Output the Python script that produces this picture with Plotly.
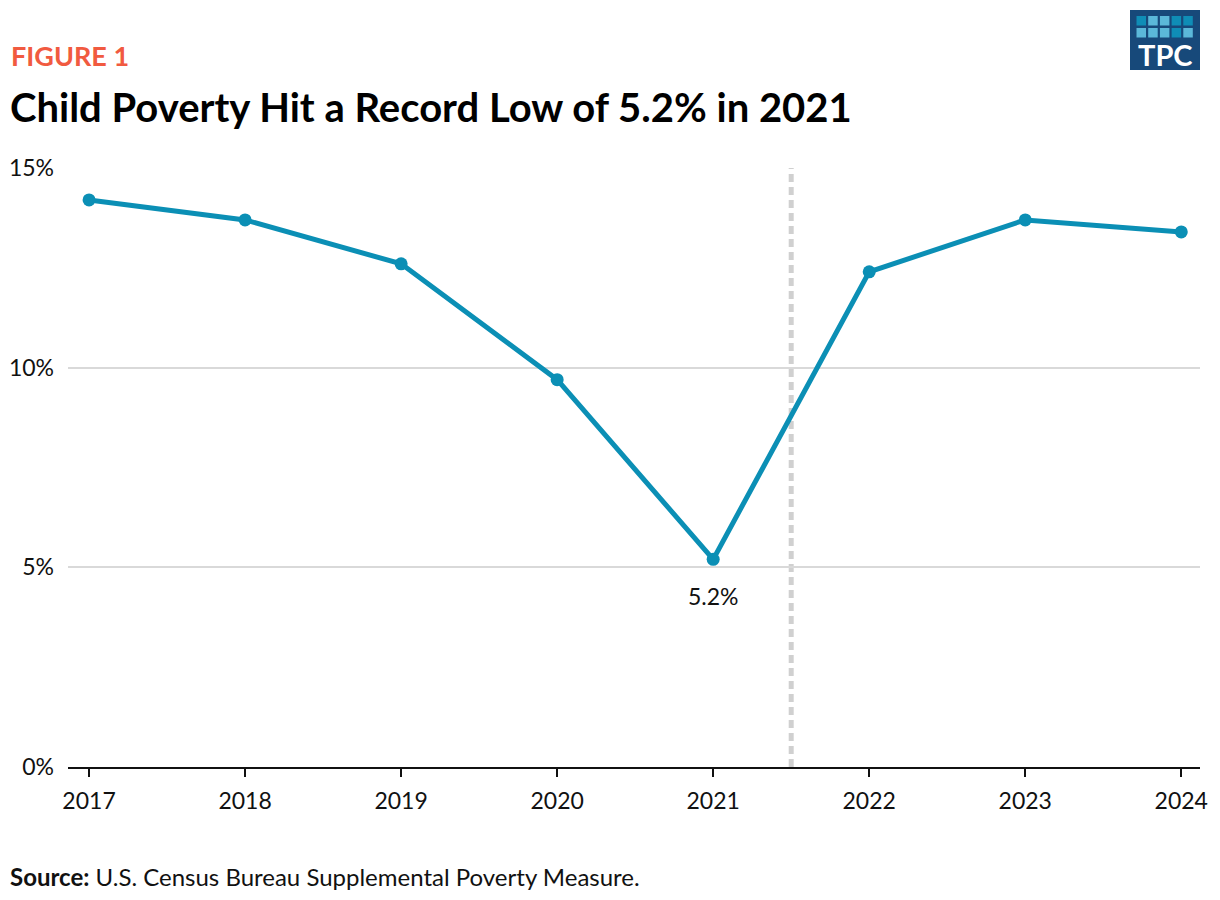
import plotly.graph_objects as go

# child poverty rate (SPM), percent
years = [2017, 2018, 2019, 2020, 2021, 2022, 2023, 2024]
rate = [14.2, 13.7, 12.6, 9.7, 5.2, 12.4, 13.7, 13.4]
y_ticks = [0, 5, 10, 15]
y_labels = ["0%", "5%", "10%", "15%"]

teal = "#0b8fb5"
font = "Lato"

fig = go.Figure()
fig.add_trace(go.Scatter(
    x=years, y=rate, mode="lines+markers",
    line=dict(color=teal, width=5),
    marker=dict(color=teal, size=13),
    hoverinfo="x+y", showlegend=False,
))

# dashed divider between 2021 and 2022
fig.add_shape(type="line", xref="x", yref="paper", x0=2021.5, x1=2021.5, y0=0, y1=1,
              line=dict(color="#d0d0d0", width=5, dash="8px,5px"), layer="below")

fig.add_annotation(x=2021, y=5.2, text="5.2%", showarrow=False, yshift=-37,
                   font=dict(family=font, size=23, color="#111"))

# page pixel -> paper coords (plot area spans x 68..1200, y 168..767 on the page)
def px_x(v):
    return (v - 68) / (1200 - 68)

def px_y(v):
    return (767 - v) / (767 - 168)

# header / footer
fig.add_annotation(xref="paper", yref="paper", x=px_x(9), y=px_y(55), xanchor="left", yanchor="middle",
                   text="<b>FIGURE 1</b>", showarrow=False,
                   font=dict(family=font, size=27, color="#f15a40"))
fig.add_annotation(xref="paper", yref="paper", x=px_x(8), y=px_y(107), xanchor="left", yanchor="middle",
                   text="<b>Child Poverty Hit a Record Low of 5.2% in 2021</b>", showarrow=False,
                   font=dict(family=font, size=40, color="#000"))
fig.add_annotation(xref="paper", yref="paper", x=px_x(8), y=px_y(876), xanchor="left", yanchor="middle",
                   text="<b>Source:</b> U.S. Census Bureau Supplemental Poverty Measure.", showarrow=False,
                   font=dict(family=font, size=24, color="#111"))

# TPC logo
fig.add_shape(type="rect", xref="paper", yref="paper",
              x0=px_x(1130), x1=px_x(1200), y0=px_y(70), y1=px_y(10),
              fillcolor="#17497a", line=dict(width=0))
dark_sq = "#0f8db6"
light_sq = "#5bb8d9"
rows = [[dark_sq, light_sq, light_sq, dark_sq, dark_sq],
        [light_sq, light_sq, light_sq, dark_sq, light_sq]]
for r, row in enumerate(rows):
    for c, col in enumerate(row):
        x0 = 1136.5 + c * 11.7
        y0 = 16 + r * 12
        fig.add_shape(type="rect", xref="paper", yref="paper",
                      x0=px_x(x0), x1=px_x(x0 + 9.5), y0=px_y(y0 + 9.5), y1=px_y(y0),
                      fillcolor=col, line=dict(width=0))
fig.add_annotation(xref="paper", yref="paper", x=px_x(1165), y=px_y(54), xanchor="center", yanchor="middle",
                   text="<b>TPC</b>", showarrow=False,
                   font=dict(family=font, size=29, color="white"))

# page body has an 8px margin, so shift margins to land the plot where the reference has it
fig.update_layout(
    width=1220, height=900,
    margin=dict(l=60, r=28, t=160, b=141),
    plot_bgcolor="white", paper_bgcolor="white",
    font=dict(family=font, size=24, color="#111"),
    xaxis=dict(
        range=[2016.865, 2024.12], tickmode="array", tickvals=years,
        showgrid=False, zeroline=False, showline=True, linecolor="#111", linewidth=2,
        ticks="outside", ticklen=8, tickwidth=2, tickcolor="#111", automargin=False,
        ticklabelstandoff=4,
        tickfont=dict(family=font, size=23, color="#111"),
    ),
    yaxis=dict(
        range=[0, 15], tickmode="array", tickvals=y_ticks, ticktext=y_labels,
        showgrid=True, gridcolor="#d9d9d9", gridwidth=1.5, zeroline=False,
        ticks="", ticklabelstandoff=13, automargin=False,
        tickfont=dict(family=font, size=23, color="#111"),
    ),
)

fig.write_html("out.html")
